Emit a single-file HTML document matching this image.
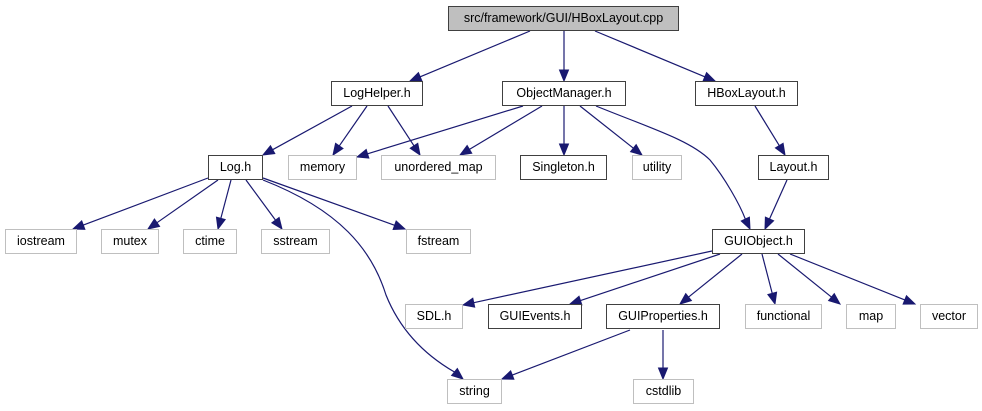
<!DOCTYPE html>
<html><head><meta charset="utf-8"><style>
body{margin:0;background:#fff;width:982px;height:411px;overflow:hidden;position:relative;font-family:"Liberation Sans",Arial,sans-serif}
.n{position:absolute;box-sizing:border-box;height:25px;border:1px solid #404040;background:#fff;font-size:12.5px;line-height:23px;text-align:center;color:#000;white-space:nowrap}
.g{border-color:#bfbfbf}
svg{position:absolute;left:0;top:0}
</style></head><body>
<svg id="s" width="982" height="411" xmlns="http://www.w3.org/2000/svg"></svg>
<div class="n" style="left:448px;top:6px;width:231px;background:#bfbfbf">src/framework/GUI/HBoxLayout.cpp</div>
<div class="n" style="left:331px;top:81px;width:92px">LogHelper.h</div>
<div class="n" style="left:502px;top:81px;width:124px">ObjectManager.h</div>
<div class="n" style="left:695px;top:81px;width:103px">HBoxLayout.h</div>
<div class="n" style="left:208px;top:155px;width:55px">Log.h</div>
<div class="n g" style="left:288px;top:155px;width:69px">memory</div>
<div class="n g" style="left:381px;top:155px;width:115px">unordered_map</div>
<div class="n" style="left:520px;top:155px;width:87px">Singleton.h</div>
<div class="n g" style="left:632px;top:155px;width:50px">utility</div>
<div class="n" style="left:758px;top:155px;width:71px">Layout.h</div>
<div class="n" style="left:712px;top:229px;width:93px">GUIObject.h</div>
<div class="n g" style="left:5px;top:229px;width:72px">iostream</div>
<div class="n g" style="left:101px;top:229px;width:58px">mutex</div>
<div class="n g" style="left:183px;top:229px;width:54px">ctime</div>
<div class="n g" style="left:261px;top:229px;width:69px">sstream</div>
<div class="n g" style="left:406px;top:229px;width:65px">fstream</div>
<div class="n g" style="left:405px;top:304px;width:58px">SDL.h</div>
<div class="n" style="left:488px;top:304px;width:94px">GUIEvents.h</div>
<div class="n" style="left:606px;top:304px;width:114px">GUIProperties.h</div>
<div class="n g" style="left:745px;top:304px;width:77px">functional</div>
<div class="n g" style="left:846px;top:304px;width:50px">map</div>
<div class="n g" style="left:920px;top:304px;width:58px">vector</div>
<div class="n g" style="left:447px;top:379px;width:55px">string</div>
<div class="n g" style="left:633px;top:379px;width:61px">cstdlib</div>
<script>
var s=document.getElementById('s'),h='';
var C='#191970';
function arrow(x1,y1,x2,y2){var dx=x2-x1,dy=y2-y1,l=Math.hypot(dx,dy),ux=dx/l,uy=dy/l,L=11,W=4.5;
var bx=x2-ux*L,by=y2-uy*L;
h+='<polygon points="'+x2+','+y2+' '+(bx-uy*W)+','+(by+ux*W)+' '+(bx+uy*W)+','+(by-ux*W)+'" fill="'+C+'" stroke="'+C+'"/>';return [bx,by];}
function e(x1,y1,x2,y2){var b=arrow(x1,y1,x2,y2);h+='<line x1="'+x1+'" y1="'+y1+'" x2="'+b[0]+'" y2="'+b[1]+'" stroke="'+C+'" stroke-width="1.2"/>';}
function c(d,px,py,x2,y2){var b=arrow(px,py,x2,y2);h+='<path d="'+d+' '+b[0]+','+b[1]+'" fill="none" stroke="'+C+'" stroke-width="1.2"/>';}
e(530,31,410,81);e(564,31,564,81);e(595,31,715,81);
e(352,106,263,155);e(367,106,333,155);e(388,106,420,155);
e(523,106,357,157);e(542,106,460,155);e(564,106,564,155);e(580,106,642,155);
c('M596,106 C650,128 690,140 710,160 C725,178 740,205',742,212,750,229);
e(755,106,785,155);e(787,180,765,229);
e(208,178,73,229);e(218,180,148,229);e(231,180,218,229);e(246,180,282,229);e(263,178,405,229);
c('M263,180 C340,210 372,250 386,295 C400,330 425,355',452,370,463,379);
e(712,251,463,305);e(720,254,570,304);e(742,254,680,304);e(762,254,775,304);e(778,254,840,304);e(790,254,915,304);
e(630,330,502,379);e(663,330,663,379);
s.innerHTML=h;
</script>
</body></html>
